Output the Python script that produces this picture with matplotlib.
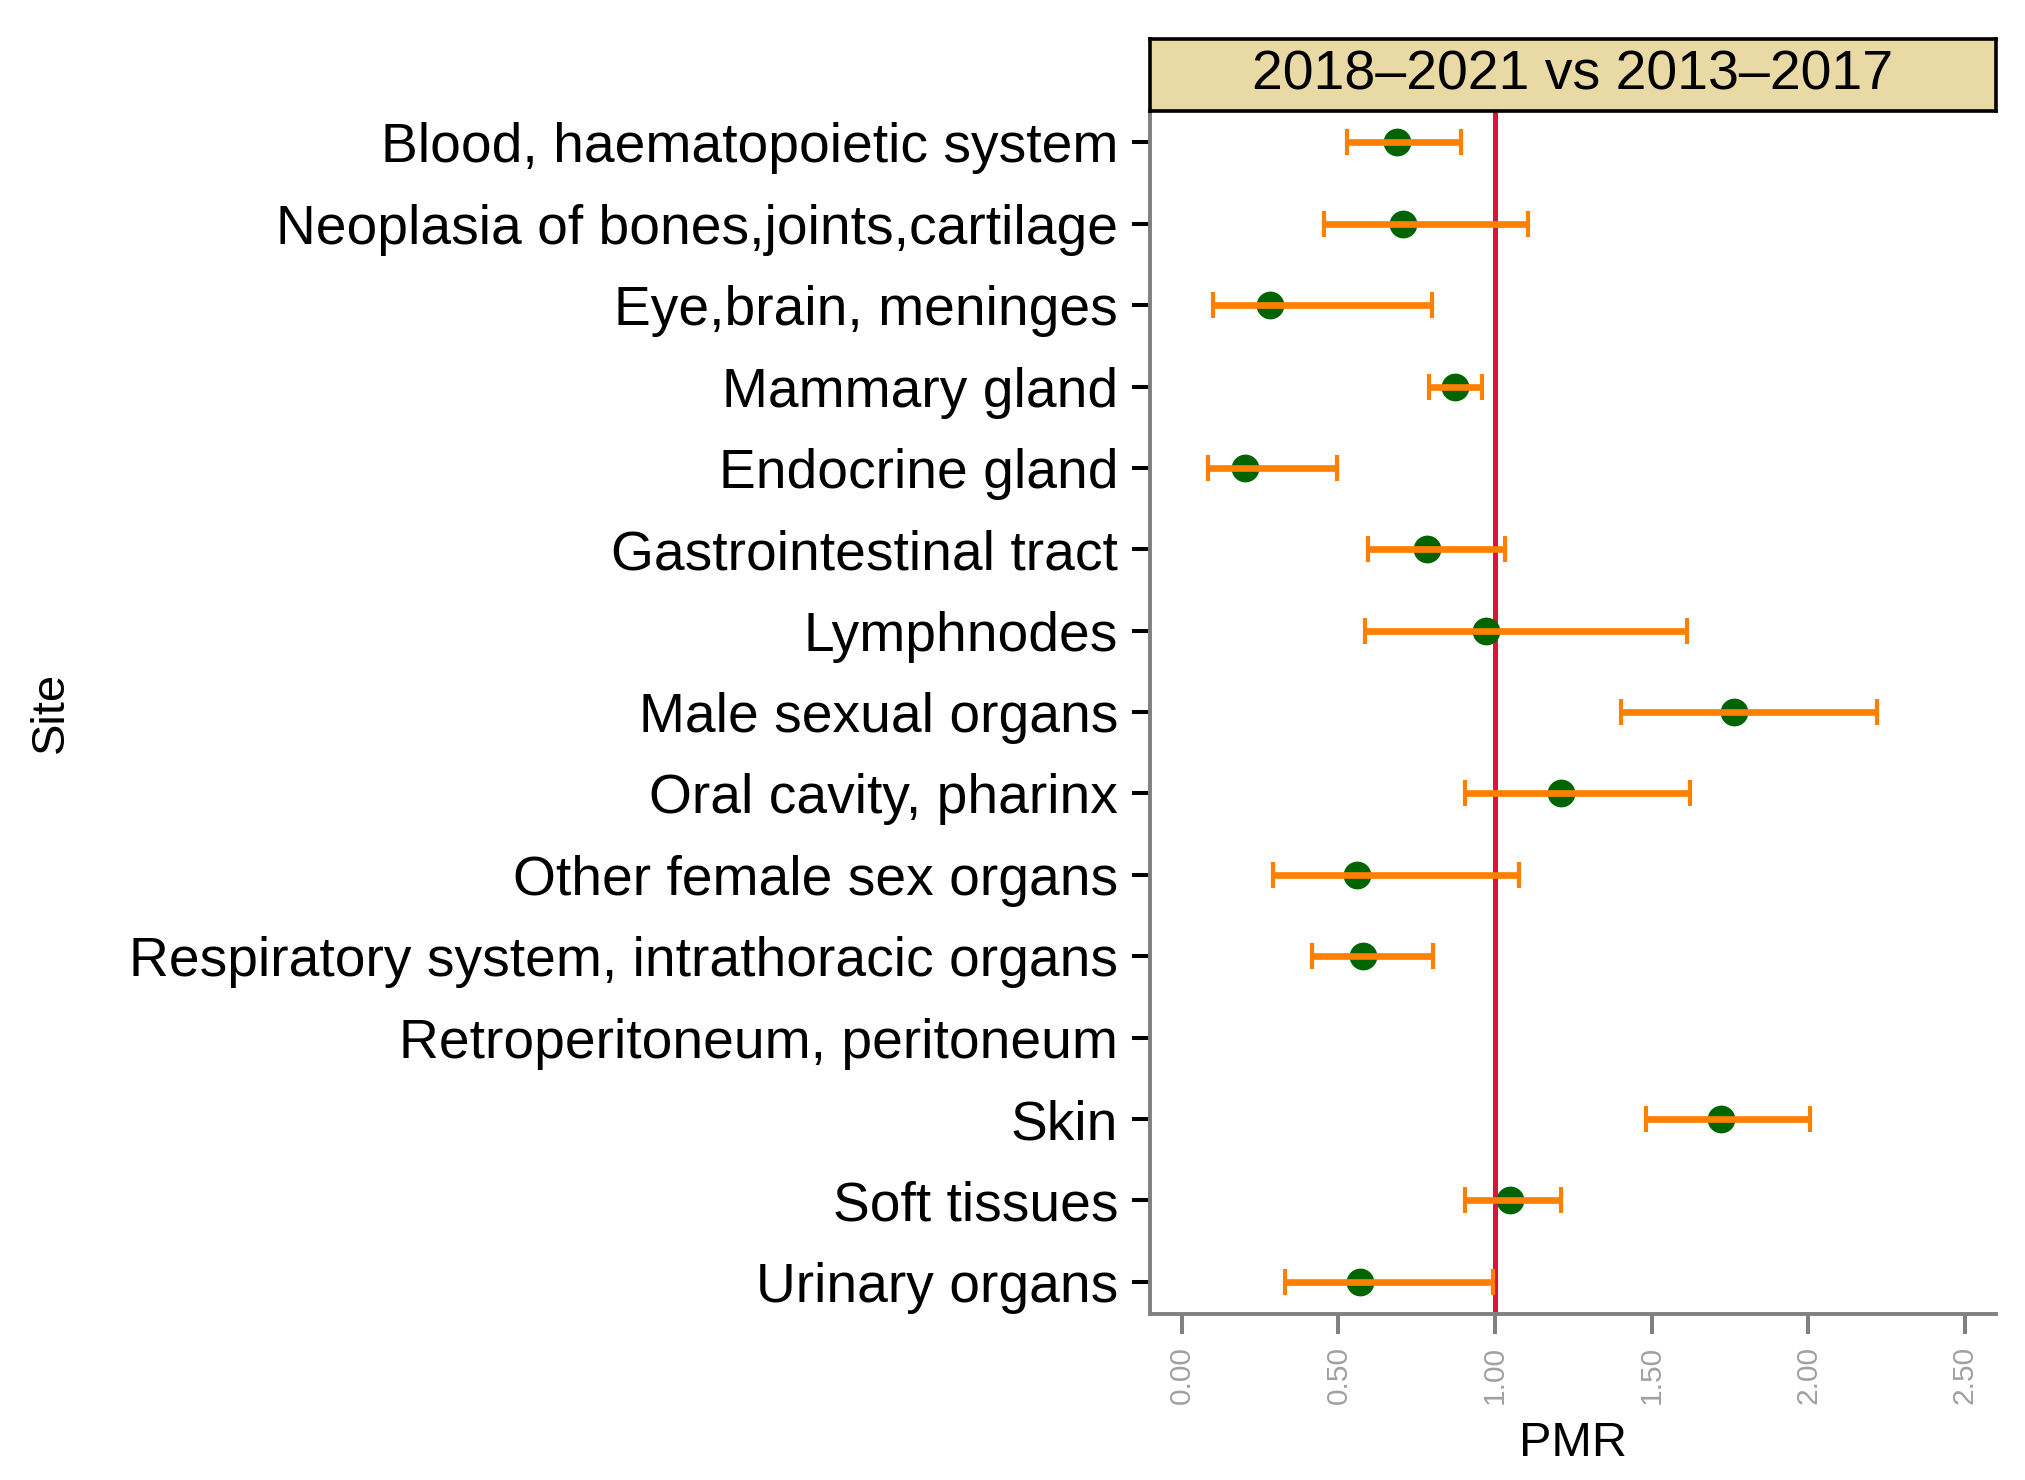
import numpy as np
import matplotlib.pyplot as plt

plt.rcParams['font.family'] = ['Liberation Sans', 'DejaVu Sans']

# sites, top to bottom
sites = ['Blood, haematopoietic system', 'Neoplasia of bones,joints,cartilage',
         'Eye,brain, meninges', 'Mammary gland', 'Endocrine gland',
         'Gastrointestinal tract', 'Lymphnodes', 'Male sexual organs',
         'Oral cavity, pharinx', 'Other female sex organs',
         'Respiratory system, intrathoracic organs', 'Retroperitoneum, peritoneum',
         'Skin', 'Soft tissues', 'Urinary organs']
pmr = [0.687, 0.707, 0.282, 0.871, 0.200, 0.782, 0.971, 1.763, 1.210, 0.559,
       0.577, np.nan, 1.723, 1.047, 0.570]
ci_low = [0.527, 0.453, 0.099, 0.790, 0.083, 0.594, 0.586, 1.401, 0.903, 0.290,
          0.414, np.nan, 1.482, 0.905, 0.329]
ci_high = [0.892, 1.106, 0.799, 0.959, 0.495, 1.031, 1.612, 2.219, 1.622, 1.077,
           0.802, np.nan, 2.005, 1.212, 0.995]
xticks = [0.0, 0.5, 1.0, 1.5, 2.0, 2.5]
panel_title = '2018–2021 vs 2013–2017'

W, H = 2025, 1480
fig = plt.figure(figsize=(W / 100, H / 100), dpi=100)

left, right = 1150 / W, 1996 / W
bottom, top = 1 - 1313.5 / H, 1 - 110.7 / H
ax = fig.add_axes([left, bottom, right - left, top - bottom])

y = np.arange(len(sites))
pmr = np.array(pmr)
lo = np.array(ci_low)
hi = np.array(ci_high)

ax.axvline(1.0, color='#DC143C', lw=3.6, zorder=1)
ax.plot(pmr, y, 'o', color='#006400', ms=20, mec='none', zorder=2)
ax.errorbar(pmr, y, xerr=[pmr - lo, hi - pmr], fmt='none', ecolor='#FF8000',
            elinewidth=4.8, capsize=9.5, capthick=3.0, zorder=3)

ax.set_xlim(-0.102, 2.60)
ax.set_ylim(len(sites) - 1 + 0.39, -0.39)

ax.set_yticks(y)
ax.set_yticklabels(sites, fontsize=39.7)
ax.set_xticks(xticks)
ax.set_xticklabels([f'{t:.2f}' for t in xticks], rotation=90, fontsize=21.5, color='#A0A0A0')

ax.tick_params(axis='y', length=13, width=2.9, color='black', pad=10)
ax.tick_params(axis='x', length=14.5, width=2.9, color='#808080', pad=9)

for s in ['top', 'right']:
    ax.spines[s].set_visible(False)
for s in ['left', 'bottom']:
    ax.spines[s].set_color('#808080')
    ax.spines[s].set_linewidth(2.8)

ax.set_xlabel('PMR', fontsize=35)
ax.xaxis.set_label_coords(0.5, -0.089)
ax.set_ylabel('Site', fontsize=34)
ax.yaxis.set_label_coords(-1.273, 0.5)

# strip header
sax = fig.add_axes([left, top, right - left, (110.7 - 39.3) / H])
sax.set_facecolor('#E8D9A5')
sax.set_xticks([])
sax.set_yticks([])
for s in sax.spines.values():
    s.set_linewidth(2.6)
    s.set_color('black')
sax.text(0.5, 0.5, panel_title, ha='center', va='center', fontsize=40,
         transform=sax.transAxes)

fig.savefig('out.png', dpi=100)
